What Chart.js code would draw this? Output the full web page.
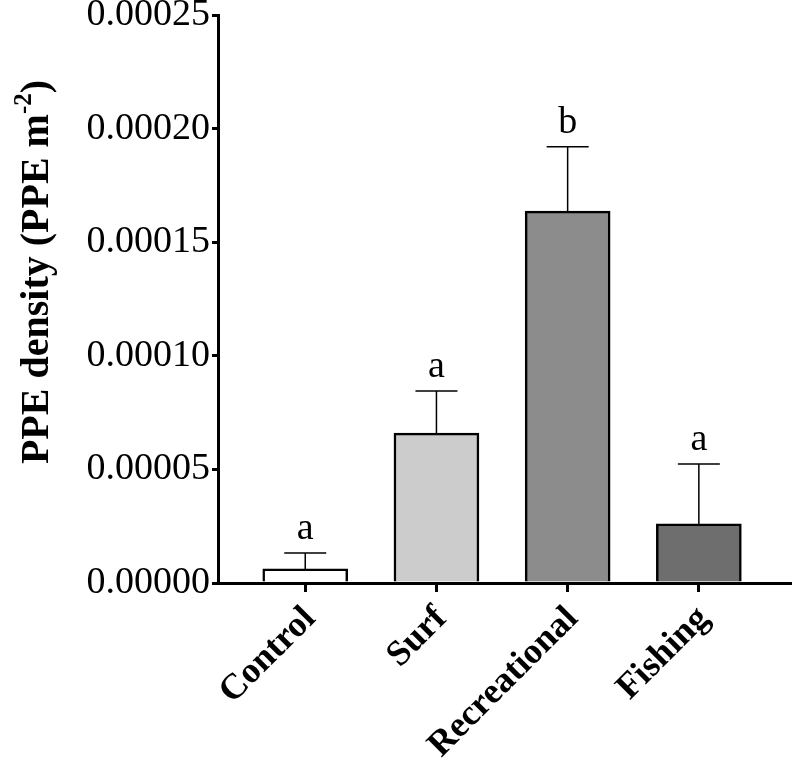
<!DOCTYPE html>
<html>
<head>
<meta charset="utf-8">
<script src="https://cdn.jsdelivr.net/npm/chart.js@4"></script>
<style>
  body { margin: 0; background: #fff; }
</style>
</head>
<body>
<canvas id="chart" width="792" height="758"></canvas>
<script>
// groups and values
const categories = ['Control', 'Surf', 'Recreational', 'Fishing'];
const means = [0.0000062, 0.000066, 0.0001637, 0.000026];
const errTops = [0.0000132, 0.0000845, 0.000192, 0.0000524];
const letters = ['a', 'a', 'b', 'a'];
const barColors = ['#ffffff', '#cccccc', '#8c8c8c', '#6e6e6e'];
const yTicks = [0, 0.00005, 0.0001, 0.00015, 0.0002, 0.00025];

const serif = '"Liberation Serif", "Times New Roman", serif';

// error bars + significance letters
const errorBars = {
  id: 'errorBars',
  afterDatasetsDraw(chart) {
    const ctx = chart.ctx;
    const y = chart.scales.y;
    const meta = chart.getDatasetMeta(0);
    ctx.save();
    meta.data.forEach((bar, i) => {
      const top = y.getPixelForValue(errTops[i]);
      const base = y.getPixelForValue(means[i]);
      ctx.strokeStyle = '#000';
      ctx.lineWidth = 1.5;
      ctx.beginPath();
      ctx.moveTo(bar.x, base);
      ctx.lineTo(bar.x, top);
      ctx.moveTo(bar.x - 21, top);
      ctx.lineTo(bar.x + 21, top);
      ctx.stroke();

      ctx.fillStyle = '#000';
      ctx.font = '38px ' + serif;
      ctx.textAlign = 'center';
      ctx.textBaseline = 'alphabetic';
      ctx.fillText(letters[i], bar.x, top - 14);
    });
    ctx.restore();
  }
};

// rotated y title with superscript
const yTitle = {
  id: 'yTitle',
  afterDraw(chart) {
    const ctx = chart.ctx;
    const main = 'PPE density (PPE m';
    const sup = '-2';
    const end = ')';
    ctx.save();
    ctx.fillStyle = '#000';
    ctx.font = 'bold 40px ' + serif;
    const w1 = ctx.measureText(main).width;
    const w3 = ctx.measureText(end).width;
    ctx.font = 'bold 25px ' + serif;
    const w2 = ctx.measureText(sup).width;
    const total = w1 + w2 + w3;
    ctx.translate(48, 272);
    ctx.rotate(-Math.PI / 2);
    ctx.textAlign = 'left';
    ctx.textBaseline = 'alphabetic';
    let x = -total / 2;
    ctx.font = 'bold 40px ' + serif;
    ctx.fillText(main, x, 0);
    x += w1;
    ctx.font = 'bold 25px ' + serif;
    ctx.fillText(sup, x, -17);
    x += w2;
    ctx.font = 'bold 40px ' + serif;
    ctx.fillText(end, x, 0);
    ctx.restore();
  }
};

Chart.defaults.color = '#000';

new Chart(document.getElementById('chart'), {
  type: 'bar',
  data: {
    datasets: [{
      data: categories.map((c, i) => ({ x: i, y: means[i] })),
      backgroundColor: barColors,
      borderColor: '#000',
      borderWidth: 2.5,
      barThickness: 85
    }]
  },
  options: {
    responsive: false,
    animation: false,
    layout: { padding: { top: 15, left: 0, right: 0, bottom: 0 } },
    plugins: { legend: { display: false }, tooltip: { enabled: false } },
    scales: {
      x: {
        type: 'linear',
        offset: false,
        min: -0.665,
        max: 3.71,
        afterBuildTicks: (scale) => {
          scale.ticks = categories.map((c, i) => ({ value: i }));
        },
        afterFit: (scale) => {
          scale.height = 175;
          scale.paddingLeft = 0;
          scale.paddingRight = 0;
        },
        border: { display: true, color: '#000', width: 3 },
        grid: { offset: false, drawOnChartArea: false, drawTicks: true, tickLength: 9, color: '#000', lineWidth: 3 },
        ticks: {
          autoSkip: false,
          maxRotation: 45,
          minRotation: 45,
          padding: 6,
          labelOffset: 5,
          font: { family: serif, size: 36, weight: 'bold' },
          callback: (v) => categories[v] ?? ''
        }
      },
      y: {
        min: 0,
        max: 0.00025,
        afterBuildTicks: (scale) => {
          scale.ticks = yTicks.map(v => ({ value: v }));
        },
        afterFit: (scale) => {
          scale.width = 218;
          scale.paddingTop = 0;
          scale.paddingBottom = 0;
        },
        border: { display: true, color: '#000', width: 3 },
        grid: { drawOnChartArea: false, drawTicks: true, tickLength: 6, color: '#000', lineWidth: 3 },
        ticks: {
          padding: 2,
          font: { family: serif, size: 38 },
          callback: (v) => v.toFixed(5)
        }
      }
    }
  },
  plugins: [errorBars, yTitle]
});
</script>
</body>
</html>
